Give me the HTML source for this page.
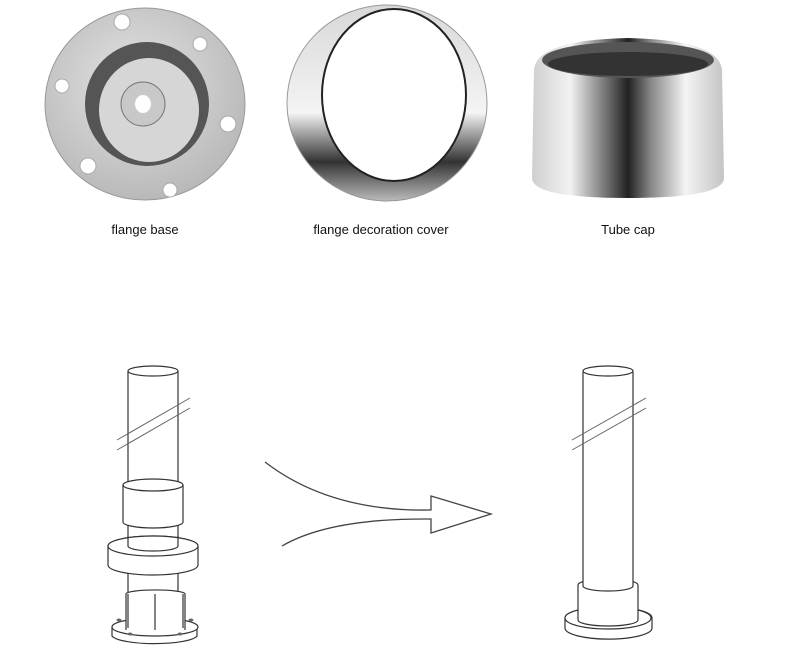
<!DOCTYPE html>
<html><head><style>
html,body{margin:0;padding:0;background:#fff;}
svg{display:block;}
text{font-family:"Liberation Sans",sans-serif;font-size:13px;fill:#111;}
</style></head><body>
<svg width="790" height="661" viewBox="0 0 790 661" xmlns="http://www.w3.org/2000/svg">
<defs>
<radialGradient id="fb" cx="0.45" cy="0.4" r="0.6"><stop offset="0" stop-color="#e4e4e4"/><stop offset="1" stop-color="#b9b9b9"/></radialGradient>
<linearGradient id="cv" x1="0" y1="0" x2="0" y2="1"><stop offset="0" stop-color="#d8d8d8"/><stop offset="0.55" stop-color="#f4f4f4"/><stop offset="0.8" stop-color="#333"/><stop offset="1" stop-color="#bbb"/></linearGradient>
<linearGradient id="cp" x1="0" y1="0" x2="1" y2="0"><stop offset="0" stop-color="#cfcfcf"/><stop offset="0.2" stop-color="#f2f2f2"/><stop offset="0.38" stop-color="#777"/><stop offset="0.5" stop-color="#222"/><stop offset="0.62" stop-color="#888"/><stop offset="0.8" stop-color="#f4f4f4"/><stop offset="1" stop-color="#c4c4c4"/></linearGradient>
</defs>
<ellipse cx="145" cy="104" rx="100" ry="96" fill="url(#fb)" stroke="#999"/>
<ellipse cx="147" cy="104" rx="62" ry="62" fill="#555"/>
<ellipse cx="149" cy="110" rx="50" ry="52" fill="#d6d6d6"/>
<ellipse cx="143" cy="104" rx="22" ry="22" fill="#c8c8c8" stroke="#777"/>
<ellipse cx="143" cy="104" rx="8" ry="9" fill="#fff"/>
<g fill="#fff" stroke="#aaa"><circle cx="122" cy="22" r="8"/><circle cx="200" cy="44" r="7"/><circle cx="62" cy="86" r="7"/><circle cx="228" cy="124" r="8"/><circle cx="88" cy="166" r="8"/><circle cx="170" cy="190" r="7"/></g>
<ellipse cx="387" cy="103" rx="100" ry="98" fill="url(#cv)" stroke="#999"/>
<ellipse cx="394" cy="95" rx="72" ry="86" fill="#fff" stroke="#222" stroke-width="2"/>
<path d="M534 70 Q536 40 628 38 Q720 40 722 70 L724 178 Q724 198 628 198 Q532 198 532 178 Z" fill="url(#cp)"/>
<ellipse cx="628" cy="60" rx="86" ry="18" fill="#555"/>
<ellipse cx="628" cy="64" rx="80" ry="12" fill="#333"/>
<text x="145" y="234" text-anchor="middle">flange base</text>
<text x="381" y="234" text-anchor="middle">flange decoration cover</text>
<text x="628" y="234" text-anchor="middle">Tube cap</text>
<g fill="#fff" stroke="#333" stroke-width="1.2">
<rect x="128" y="372" width="50" height="230"/>
<path d="M112 636 L112 627 A43 9 0 0 1 197 627 L197 636 A43 9 0 0 1 112 636Z"/>
<ellipse cx="155" cy="627" rx="43" ry="9"/>
<path d="M126 630 L126 594 A29 4 0 0 1 185 594 L185 630" />
<line x1="155" y1="594" x2="155" y2="630"/>
<line x1="128" y1="594" x2="128" y2="628"/>
<line x1="183" y1="594" x2="183" y2="628"/>
<path d="M108 546 A45 10 0 0 1 198 546 L198 565 A45 10 0 0 1 108 565 Z"/>
<ellipse cx="153" cy="546" rx="45" ry="10"/>
<path d="M128 546 A25 5 0 0 0 178 546 L178 540 L128 540 Z" stroke="none"/>
<path d="M128 546 A25 5 0 0 0 178 546" fill="none"/>
<line x1="128" y1="536" x2="128" y2="546"/>
<line x1="178" y1="536" x2="178" y2="546"/>
<ellipse cx="153" cy="371" rx="25" ry="5"/>
<path d="M123 485 A30 6 0 0 1 183 485 L183 522 A30 6 0 0 1 123 522 Z"/>
<path d="M123 485 A30 6 0 0 0 183 485" fill="none"/>
<g fill="none" stroke="#666" stroke-width="1"><line x1="117" y1="440" x2="190" y2="398"/><line x1="117" y1="450" x2="190" y2="408"/></g>
<g fill="#666" stroke="none"><ellipse cx="119" cy="620" rx="2.5" ry="1.5"/><ellipse cx="191" cy="620" rx="2.5" ry="1.5"/><ellipse cx="130" cy="634" rx="2.5" ry="1.5"/><ellipse cx="180" cy="634" rx="2.5" ry="1.5"/></g>
</g>
<path d="M265 462 Q330 512 431 510 L431 496 L491 514 L431 533 L431 519 Q330 518 282 546" fill="none" stroke="#444" stroke-width="1.3"/>
<g fill="#fff" stroke="#333" stroke-width="1.2">
<path d="M565 618 A43 11 0 0 1 652 618 L652 628 A43 11 0 0 1 565 628 Z"/>
<ellipse cx="608" cy="618" rx="43" ry="11"/>
<path d="M578 585 A30 6 0 0 1 638 585 L638 620 A30 6 0 0 1 578 620 Z"/>
<path d="M583 372 L583 586 A25 5 0 0 0 633 586 L633 372"/>
<ellipse cx="608" cy="371" rx="25" ry="5"/>
<g fill="none" stroke="#666" stroke-width="1"><line x1="572" y1="440" x2="646" y2="398"/><line x1="572" y1="450" x2="646" y2="408"/></g>
</g>
</svg>
</body></html>
